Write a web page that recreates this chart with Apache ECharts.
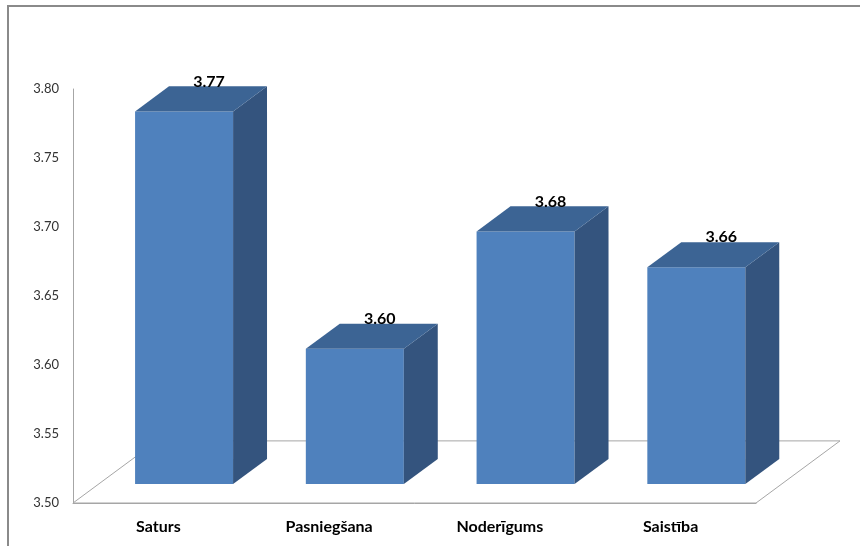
<!DOCTYPE html>
<html>
<head>
<meta charset="utf-8">
<script src="https://cdn.jsdelivr.net/npm/echarts@6/dist/echarts.min.js"></script>
<style>
html,body{margin:0;padding:0;background:#fff;}
#chart{width:860px;height:546px;}
</style>
</head>
<body>
<div id="chart"></div>
<script>
const categories = ['Saturs', 'Pasniegšana', 'Noderīgums', 'Saistība'];
const scores = [3.770, 3.598, 3.683, 3.657];
const axisMin = 3.5;
const axisMax = 3.8;
const axisStep = 0.05;

const FONT = 'Lato, "Liberation Sans", sans-serif';
const DEPTH_X = 0.492;   // floor depth as share of category band
const DEPTH_Y = 0.15;    // floor depth as share of plot height
const FRONT = 0.306, BACK = 0.71, BAR_W = 0.574;

const chart = echarts.init(document.getElementById('chart'), null, {renderer: 'canvas'});

function floorRender(params, api) {
  const p0 = api.coord([0, axisMin]);
  const bw = api.size([1, 0])[0];
  const h = api.size([0, axisMax - axisMin])[1];
  const dx = bw * DEPTH_X, dy = -h * DEPTH_Y;
  const left = p0[0] - bw / 2, right = left + bw * categories.length, y = p0[1];
  return {
    type: 'polygon',
    shape: {points: [[left, y], [right, y], [right + dx, y + dy], [left + dx, y + dy]]},
    style: {fill: 'none', stroke: '#a6a6a6', lineWidth: 1}
  };
}

function barRender(params, api) {
  const i = api.value(0), v = api.value(1);
  const base = api.coord([i, axisMin]);
  const top = api.coord([i, v]);
  const bw = api.size([1, 0])[0];
  const h = api.size([0, axisMax - axisMin])[1];
  const dx = bw * DEPTH_X, dy = -h * DEPTH_Y;
  const w = bw * BAR_W;
  const xL = base[0] + FRONT * dx - w / 2, xR = xL + w;
  const yB = base[1] + FRONT * dy, yT = top[1] + FRONT * dy;
  const ddx = (BACK - FRONT) * dx, ddy = (BACK - FRONT) * dy;
  return {
    type: 'group',
    children: [
      {type: 'polygon', shape: {points: [[xL, yT], [xR, yT], [xR, yB], [xL, yB]]},
       style: {fill: '#4f81bd'}},
      {type: 'polygon', shape: {points: [[xR, yT], [xR + ddx, yT + ddy], [xR + ddx, yB + ddy], [xR, yB]]},
       style: {fill: '#34547e'}},
      {type: 'polygon', shape: {points: [[xL, yT], [xL + ddx, yT + ddy], [xR + ddx, yT + ddy], [xR, yT]]},
       style: {fill: '#3c6494'}},
      {type: 'text', x: (xL + xR) / 2 + 25, y: yT - 30,
       style: {text: v.toFixed(2), fill: '#000', font: 'bold 16px ' + FONT,
               textAlign: 'center', textVerticalAlign: 'middle'}}
    ]
  };
}

chart.setOption({
  animation: false,
  backgroundColor: '#fff',
  graphic: [{
    type: 'rect', shape: {x: 8, y: 6, width: 900, height: 600},
    style: {fill: 'none', stroke: '#8a8a8a', lineWidth: 2}, z: 0
  }],
  grid: {left: 73, right: 104, top: 89, bottom: 43},
  xAxis: {
    type: 'category', data: categories,
    axisLine: {lineStyle: {color: '#a6a6a6'}},
    axisTick: {show: false},
    axisLabel: {color: '#000', fontWeight: 'bold', fontSize: 16, fontFamily: FONT, margin: 16}
  },
  yAxis: {
    type: 'value', min: axisMin, max: axisMax, interval: axisStep,
    axisLine: {show: true, lineStyle: {color: '#a6a6a6'}},
    axisTick: {show: false},
    splitLine: {show: false},
    axisLabel: {color: '#333', fontSize: 13, fontFamily: FONT, margin: 14,
                formatter: v => v.toFixed(2)}
  },
  series: [
    {type: 'custom', renderItem: floorRender, data: [[0, axisMin]], z: 1, silent: true},
    {type: 'custom', renderItem: barRender, data: scores.map((v, i) => [i, v]), z: 3, silent: true}
  ]
});
</script>
</body>
</html>
